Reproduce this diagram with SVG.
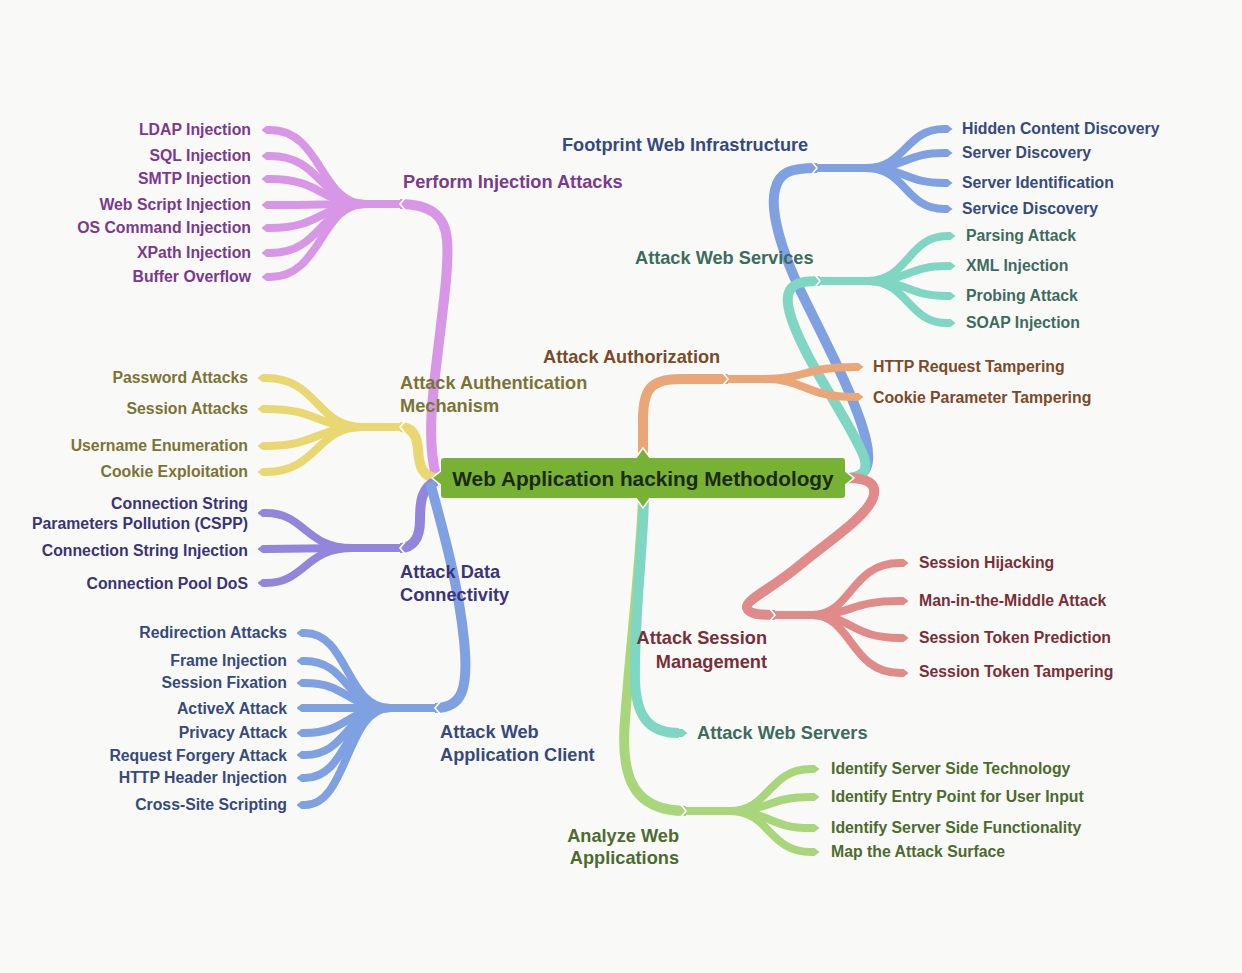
<svg xmlns="http://www.w3.org/2000/svg" width="1242" height="973" viewBox="0 0 1242 973">
<style>
text{font-family:"Liberation Sans",Arial,sans-serif;font-weight:bold}
.leaf{font-size:15.8px}
.lbl{font-size:18.2px}
.c{fill:none;stroke-linecap:butt;stroke-linejoin:round}
.t{stroke-width:10}
.l{stroke-width:8}
.pu{stroke:#d897e6}.ye{stroke:#e9d772}.vi{stroke:#9384dc}.bl{stroke:#7fa1e2}.te{stroke:#7fd6c3}.or{stroke:#eaa677}.re{stroke:#e08b89}.gr{stroke:#a9d67a}
.notch{fill:none;stroke:#ffffff;stroke-width:1.6;stroke-linejoin:miter}
.tpu{fill:#7a3a8e}.tye{fill:#7b7434}.tvi{fill:#3a3478}.tbl{fill:#364a7c}.tte{fill:#3e6b5f}.tor{fill:#7b4a28}.tre{fill:#7a2f38}.tgr{fill:#4d6b2e}
.end{text-anchor:end}
</style>
<defs>
<marker id="mpu" markerUnits="userSpaceOnUse" markerWidth="9" markerHeight="9" viewBox="0 0 9 9" refX="0.5" refY="4.5" orient="auto"><path d="M0,0.5 L4,0.5 L9,4.5 L4,8.5 L0,8.5 Z" fill="#d897e6"/></marker>
<marker id="mye" markerUnits="userSpaceOnUse" markerWidth="9" markerHeight="9" viewBox="0 0 9 9" refX="0.5" refY="4.5" orient="auto"><path d="M0,0.5 L4,0.5 L9,4.5 L4,8.5 L0,8.5 Z" fill="#e9d772"/></marker>
<marker id="mvi" markerUnits="userSpaceOnUse" markerWidth="9" markerHeight="9" viewBox="0 0 9 9" refX="0.5" refY="4.5" orient="auto"><path d="M0,0.5 L4,0.5 L9,4.5 L4,8.5 L0,8.5 Z" fill="#9384dc"/></marker>
<marker id="mbl" markerUnits="userSpaceOnUse" markerWidth="9" markerHeight="9" viewBox="0 0 9 9" refX="0.5" refY="4.5" orient="auto"><path d="M0,0.5 L4,0.5 L9,4.5 L4,8.5 L0,8.5 Z" fill="#7fa1e2"/></marker>
<marker id="mte" markerUnits="userSpaceOnUse" markerWidth="9" markerHeight="9" viewBox="0 0 9 9" refX="0.5" refY="4.5" orient="auto"><path d="M0,0.5 L4,0.5 L9,4.5 L4,8.5 L0,8.5 Z" fill="#7fd6c3"/></marker>
<marker id="mor" markerUnits="userSpaceOnUse" markerWidth="9" markerHeight="9" viewBox="0 0 9 9" refX="0.5" refY="4.5" orient="auto"><path d="M0,0.5 L4,0.5 L9,4.5 L4,8.5 L0,8.5 Z" fill="#eaa677"/></marker>
<marker id="mre" markerUnits="userSpaceOnUse" markerWidth="9" markerHeight="9" viewBox="0 0 9 9" refX="0.5" refY="4.5" orient="auto"><path d="M0,0.5 L4,0.5 L9,4.5 L4,8.5 L0,8.5 Z" fill="#e08b89"/></marker>
<marker id="mgr" markerUnits="userSpaceOnUse" markerWidth="9" markerHeight="9" viewBox="0 0 9 9" refX="0.5" refY="4.5" orient="auto"><path d="M0,0.5 L4,0.5 L9,4.5 L4,8.5 L0,8.5 Z" fill="#a9d67a"/></marker>
</defs>
<rect width="1242" height="973" fill="#f9f9f8"/>

<g id="connectors">
  <!-- purple: Perform Injection Attacks -->
  <path class="c t pu" d="M436,476 C427,440 432,400 438,350 C444,300 449,265 447,240 C445,215 430,204 400,204"/>
  <g class="c l pu" marker-end="url(#mpu)">
    <path d="M400,204 L365,204 C320,204 322,130 270,130"/>
    <path d="M400,204 L365,204 C320,204 322,156 270,156"/>
    <path d="M400,204 L365,204 C320,204 322,179 270,179"/>
    <path d="M400,204 L365,204 C320,204 322,205 270,205"/>
    <path d="M400,204 L365,204 C320,204 322,228 270,228"/>
    <path d="M400,204 L365,204 C320,204 322,253 270,253"/>
    <path d="M400,204 L365,204 C320,204 322,277 270,277"/>
  </g>
  <!-- yellow: Attack Authentication Mechanism -->
  <path class="c t ye" d="M438,478 C422,478 419,465 418,450 C417,433 410,427 400,427"/>
  <g class="c l ye" marker-end="url(#mye)">
    <path d="M400,427 L362,427 C316,427 318,378 266,378"/>
    <path d="M400,427 L362,427 C316,427 318,409 266,409"/>
    <path d="M400,427 L362,427 C316,427 318,446 266,446"/>
    <path d="M400,427 L362,427 C316,427 318,472 266,472"/>
  </g>
  <!-- violet: Attack Data Connectivity -->
  <path class="c t vi" d="M436,481 C422,488 420,500 420,520 C420,540 412,548 400,548"/>
  <g class="c l vi" marker-end="url(#mvi)">
    <path d="M400,548 L352,548 C305,548 305,513 266,513"/>
    <path d="M400,548 L352,548 C305,548 305,549 266,549"/>
    <path d="M400,548 L352,548 C305,548 305,583 266,583"/>
  </g>
  <!-- blue: Attack Web Application Client -->
  <path class="c t bl" d="M430,482 C440,520 458,580 464,640 C469,690 462,708 435,708"/>
  <g class="c l bl" marker-end="url(#mbl)">
    <path d="M435,708 L390,708 C346,708 348,633 305,633"/>
    <path d="M435,708 L390,708 C346,708 348,661 305,661"/>
    <path d="M435,708 L390,708 C346,708 348,683 305,683"/>
    <path d="M435,708 L390,708 C346,708 348,708 305,708"/>
    <path d="M435,708 L390,708 C346,708 348,733 305,733"/>
    <path d="M435,708 L390,708 C346,708 348,755 305,755"/>
    <path d="M435,708 L390,708 C346,708 348,778 305,778"/>
    <path d="M435,708 L390,708 C346,708 348,805 305,805"/>
  </g>
  <!-- blue: Footprint Web Infrastructure -->
  <path class="c t bl" d="M848,478 C866,478 872,465 866,440 C858,405 830,350 805,300 C780,250 770,210 775,190 C779,172 790,168 817,168"/>
  <g class="c l bl" marker-end="url(#mbl)">
    <path d="M817,168 L866,168 C906,168 905,129 944,129"/>
    <path d="M817,168 L866,168 C906,168 905,153 944,153"/>
    <path d="M817,168 L866,168 C906,168 905,183 944,183"/>
    <path d="M817,168 L866,168 C906,168 905,209 944,209"/>
  </g>
  <!-- teal: Attack Web Services -->
  <path class="c t te" d="M848,478 C868,478 868,465 862,452 C850,425 820,380 805,350 C790,320 784,300 790,290 C795,282 805,281 820,281"/>
  <g class="c l te" marker-end="url(#mte)">
    <path d="M820,281 L868,281 C908,281 908,236 947,236"/>
    <path d="M820,281 L868,281 C908,281 908,266 947,266"/>
    <path d="M820,281 L868,281 C908,281 908,296 947,296"/>
    <path d="M820,281 L868,281 C908,281 908,323 947,323"/>
  </g>
  <!-- orange: Attack Authorization -->
  <path class="c t or" d="M643,458 L643,420 C643,390 650,379 680,379 L728,379"/>
  <g class="c l or" marker-end="url(#mor)">
    <path d="M728,379 L765,379 C805,379 805,367 855,367"/>
    <path d="M728,379 L765,379 C805,379 805,397 855,397"/>
  </g>
  <!-- red: Attack Session Management -->
  <path class="c t re" d="M848,478 C868,478 878,484 873,498 C865,518 830,540 800,565 C770,590 745,600 747,608 C749,614 760,615 775,615"/>
  <g class="c l re" marker-end="url(#mre)">
    <path d="M775,615 L812,615 C852,615 850,563 900,563"/>
    <path d="M775,615 L812,615 C852,615 850,601 900,601"/>
    <path d="M775,615 L812,615 C852,615 850,638 900,638"/>
    <path d="M775,615 L812,615 C852,615 850,673 900,673"/>
  </g>
  <!-- green: Analyze Web Applications -->
  <path class="c t gr" d="M643,498 C641,560 630,650 625,720 C620,780 635,811 686,811"/>
  <g class="c l gr" marker-end="url(#mgr)">
    <path d="M686,811 L730,811 C770,811 768,769 811,769"/>
    <path d="M686,811 L730,811 C770,811 768,797 811,797"/>
    <path d="M686,811 L730,811 C770,811 768,828 811,828"/>
    <path d="M686,811 L730,811 C770,811 768,852 811,852"/>
  </g>
  <!-- teal: Attack Web Servers -->
  <path class="c t te" marker-end="url(#mte)" d="M644,500 C642,560 634,620 635,680 C636,718 650,733 679,733"/>
  <!-- junction notches -->
  <polyline class="notch" points="405,198 400,204 405,210"/>
  <polyline class="notch" points="405,421 400,427 405,433"/>
  <polyline class="notch" points="405,542 400,548 405,554"/>
  <polyline class="notch" points="440,702 435,708 440,714"/>
  <polyline class="notch" points="812,162 817,168 812,174"/>
  <polyline class="notch" points="815,275 820,281 815,287"/>
  <polyline class="notch" points="723,373 728,379 723,385"/>
  <polyline class="notch" points="770,609 775,615 770,621"/>
  <polyline class="notch" points="681,805 686,811 681,817"/>
</g>

<g id="center">
  <polygon points="635,459 643,448 651,459" fill="#77b234" stroke="#ffffff" stroke-width="1.5"/>
  <polygon points="635,497 643,508 651,497" fill="#77b234" stroke="#ffffff" stroke-width="1.5"/>
  <polygon points="442,470 432,478 442,486" fill="#77b234" stroke="#ffffff" stroke-width="1.5"/>
  <polygon points="844,470 854,478 844,486" fill="#77b234" stroke="#ffffff" stroke-width="1.5"/>
  <rect x="441" y="458" width="404" height="40" rx="3" fill="#77b234"/>
  <text x="643" y="486" text-anchor="middle" font-size="20.8" fill="#1c2a10">Web Application hacking Methodology</text>
</g>

<g id="perform-injection-attacks"><text class="lbl tpu" x="403" y="188">Perform Injection Attacks</text></g>
<g id="ldap-injection"><text class="leaf tpu end" x="251" y="135">LDAP Injection</text></g>
<g id="sql-injection"><text class="leaf tpu end" x="251" y="161">SQL Injection</text></g>
<g id="smtp-injection"><text class="leaf tpu end" x="251" y="184">SMTP Injection</text></g>
<g id="web-script-injection"><text class="leaf tpu end" x="251" y="210">Web Script Injection</text></g>
<g id="os-command-injection"><text class="leaf tpu end" x="251" y="233">OS Command Injection</text></g>
<g id="xpath-injection"><text class="leaf tpu end" x="251" y="258">XPath Injection</text></g>
<g id="buffer-overflow"><text class="leaf tpu end" x="251" y="282">Buffer Overflow</text></g>

<g id="attack-authentication-mechanism"><text class="lbl tye" x="400" y="389">Attack Authentication</text><text class="lbl tye" x="400" y="412">Mechanism</text></g>
<g id="password-attacks"><text class="leaf tye end" x="248" y="383">Password Attacks</text></g>
<g id="session-attacks"><text class="leaf tye end" x="248" y="414">Session Attacks</text></g>
<g id="username-enumeration"><text class="leaf tye end" x="248" y="451">Username Enumeration</text></g>
<g id="cookie-exploitation"><text class="leaf tye end" x="248" y="477">Cookie Exploitation</text></g>

<g id="attack-data-connectivity"><text class="lbl tvi" x="400" y="578">Attack Data</text><text class="lbl tvi" x="400" y="601">Connectivity</text></g>
<g id="cspp"><text class="leaf tvi end" x="248" y="509">Connection String</text><text class="leaf tvi end" x="248" y="529">Parameters Pollution (CSPP)</text></g>
<g id="connection-string-injection"><text class="leaf tvi end" x="248" y="556">Connection String Injection</text></g>
<g id="connection-pool-dos"><text class="leaf tvi end" x="248" y="589">Connection Pool DoS</text></g>

<g id="attack-web-application-client"><text class="lbl tbl" x="440" y="738">Attack Web</text><text class="lbl tbl" x="440" y="761">Application Client</text></g>
<g id="redirection-attacks"><text class="leaf tbl end" x="287" y="638">Redirection Attacks</text></g>
<g id="frame-injection"><text class="leaf tbl end" x="287" y="666">Frame Injection</text></g>
<g id="session-fixation"><text class="leaf tbl end" x="287" y="688">Session Fixation</text></g>
<g id="activex-attack"><text class="leaf tbl end" x="287" y="714">ActiveX Attack</text></g>
<g id="privacy-attack"><text class="leaf tbl end" x="287" y="738">Privacy Attack</text></g>
<g id="request-forgery-attack"><text class="leaf tbl end" x="287" y="761">Request Forgery Attack</text></g>
<g id="http-header-injection"><text class="leaf tbl end" x="287" y="783">HTTP Header Injection</text></g>
<g id="cross-site-scripting"><text class="leaf tbl end" x="287" y="810">Cross-Site Scripting</text></g>

<g id="footprint-web-infrastructure"><text class="lbl tbl" x="562" y="151">Footprint Web Infrastructure</text></g>
<g id="hidden-content-discovery"><text class="leaf tbl" x="962" y="134">Hidden Content Discovery</text></g>
<g id="server-discovery"><text class="leaf tbl" x="962" y="158">Server Discovery</text></g>
<g id="server-identification"><text class="leaf tbl" x="962" y="188">Server Identification</text></g>
<g id="service-discovery"><text class="leaf tbl" x="962" y="214">Service Discovery</text></g>

<g id="attack-web-services"><text class="lbl tte" x="635" y="264">Attack Web Services</text></g>
<g id="parsing-attack"><text class="leaf tte" x="966" y="241">Parsing Attack</text></g>
<g id="xml-injection"><text class="leaf tte" x="966" y="271">XML Injection</text></g>
<g id="probing-attack"><text class="leaf tte" x="966" y="301">Probing Attack</text></g>
<g id="soap-injection"><text class="leaf tte" x="966" y="328">SOAP Injection</text></g>

<g id="attack-authorization"><text class="lbl tor" x="543" y="363">Attack Authorization</text></g>
<g id="http-request-tampering"><text class="leaf tor" x="873" y="372">HTTP Request Tampering</text></g>
<g id="cookie-parameter-tampering"><text class="leaf tor" x="873" y="403">Cookie Parameter Tampering</text></g>

<g id="attack-session-management"><text class="lbl tre end" x="767" y="644">Attack Session</text><text class="lbl tre end" x="767" y="668">Management</text></g>
<g id="session-hijacking"><text class="leaf tre" x="919" y="568">Session Hijacking</text></g>
<g id="man-in-the-middle-attack"><text class="leaf tre" x="919" y="606">Man-in-the-Middle Attack</text></g>
<g id="session-token-prediction"><text class="leaf tre" x="919" y="643">Session Token Prediction</text></g>
<g id="session-token-tampering"><text class="leaf tre" x="919" y="677">Session Token Tampering</text></g>

<g id="attack-web-servers"><text class="lbl tte" x="697" y="739">Attack Web Servers</text></g>

<g id="analyze-web-applications"><text class="lbl tgr end" x="679" y="842">Analyze Web</text><text class="lbl tgr end" x="679" y="864">Applications</text></g>
<g id="identify-server-side-technology"><text class="leaf tgr" x="831" y="774">Identify Server Side Technology</text></g>
<g id="identify-entry-point"><text class="leaf tgr" x="831" y="802">Identify Entry Point for User Input</text></g>
<g id="identify-server-side-functionality"><text class="leaf tgr" x="831" y="833">Identify Server Side Functionality</text></g>
<g id="map-the-attack-surface"><text class="leaf tgr" x="831" y="857">Map the Attack Surface</text></g>
</svg>
